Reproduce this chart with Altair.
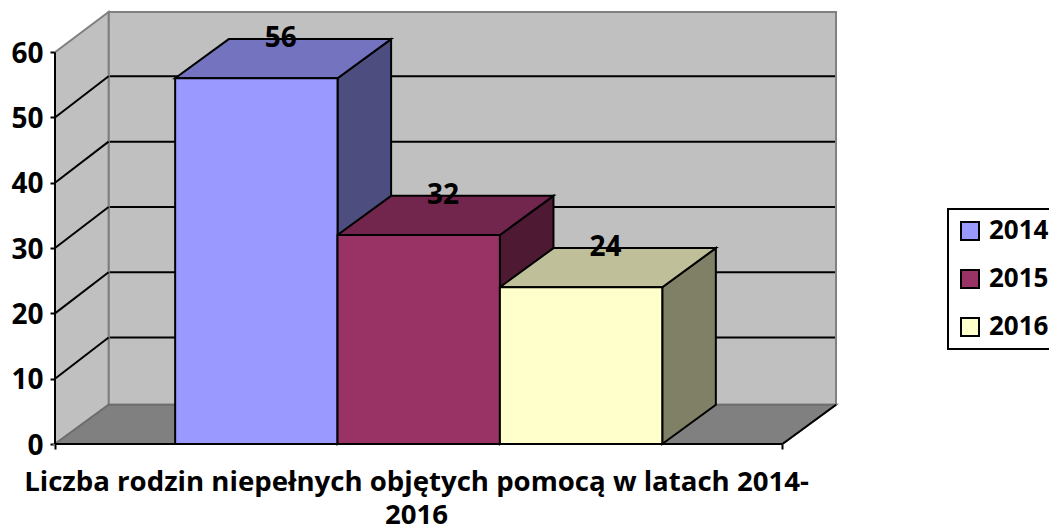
import altair as alt
import pandas as pd

YEARS = ["2014", "2015", "2016"]
VALUES = [56, 32, 24]
FRONT = ["#9999FF", "#993366", "#FFFFCC"]
TOPS = ["#7373BF", "#73264D", "#BFBF99"]
SIDES = ["#4D4D80", "#4D1933", "#808066"]
TICKS = [0, 10, 20, 30, 40, 50, 60]
GRID_VALUES = [10, 20, 30, 40, 50]
TITLE = ["Liczba rodzin niepełnych objętych pomocą w latach 2014-", "2016"]

GAP = 0.74          # empty floor left of the first bar, in bar widths
FLOOR = 3 + 2 * GAP  # floor width in bar widths
DX = 0.33           # depth in bar widths
DY = 6.0            # depth in value units
GRID_DY = 6.3
TOP = 66.15
FONT = "Open Sans"

XS = alt.Scale(domain=[0, FLOOR + DX], nice=False, zero=False)
YS = alt.Scale(domain=[0, TOP], nice=False, zero=False)
X = alt.X("x:Q", scale=XS, axis=None)
Y = alt.Y("y:Q", scale=YS, axis=None)

bars = []
sides = []
tops = []
for i, (yr, v) in enumerate(zip(YEARS, VALUES)):
    x0, x1 = GAP + i, GAP + i + 1
    bars.append({"year": yr, "v": v, "x": x0, "x2": x1, "y": 0, "y2": v,
                 "lx": x0 + 0.5 + 0.15, "ly": v + DY})
    sides += [{"year": yr, "x": x1, "y": 0, "y2": v},
              {"year": yr, "x": x1 + DX, "y": DY, "y2": v + DY}]
    tops += [{"year": yr, "y": v, "x": x0, "x2": x1},
             {"year": yr, "y": v + DY, "x": x0 + DX, "x2": x1 + DX}]

bars = pd.DataFrame(bars)
sides = pd.DataFrame(sides)
tops = pd.DataFrame(tops)

# Back wall, with the value and base axes
wall = alt.Chart(pd.DataFrame([{"x": DX, "x2": FLOOR + DX, "y": DY, "y2": TOP}])).mark_rect(
    color="#C0C0C0"
).encode(
    x=alt.X("x:Q", scale=XS,
            axis=alt.Axis(values=[0, FLOOR], labels=False, domain=False, grid=False,
                          tickColor="black", tickWidth=2, tickSize=5,
                          title=TITLE, titleFont=FONT, titleFontWeight="bold",
                          titleFontSize=27.6, titleColor="black", titleLineHeight=33,
                          titleX=361, titleY=24, titleAlign="center", titleBaseline="top")),
    x2="x2:Q",
    y=alt.Y("y:Q", scale=YS,
            axis=alt.Axis(values=TICKS, domain=False, grid=False, title=None,
                          tickColor="black", tickWidth=2, tickSize=5,
                          labelFont=FONT, labelFontWeight="bold", labelFontSize=28,
                          labelColor="black", labelPadding=7, labelOffset=2)),
    y2="y2:Q",
)

left_wall = alt.Chart(pd.DataFrame([
    {"x": 0, "y": 0, "y2": 60}, {"x": DX, "y": DY, "y2": TOP}
])).mark_area(color="#C0C0C0", stroke="#808080", strokeWidth=2, orient="vertical").encode(
    x=X, y=alt.Y("y:Q", scale=YS, axis=None, stack=None), y2="y2:Q")

floor = alt.Chart(pd.DataFrame([
    {"y": 0, "x": 0, "x2": FLOOR}, {"y": DY, "x": DX, "x2": FLOOR + DX}
])).mark_area(color="#808080", stroke="#6E6E6E", strokeWidth=2, orient="horizontal").encode(
    y=Y, x=alt.X("x:Q", scale=XS, axis=None, stack=None), x2="x2:Q")

grid = alt.Chart(pd.DataFrame({"v": GRID_VALUES}).assign(
    x=DX, x2=FLOOR + DX, y=lambda d: d.v + GRID_DY)).mark_rule(color="black", strokeWidth=2).encode(
    x=X, x2="x2:Q", y=Y)

diagonals = alt.Chart(pd.DataFrame({"v": GRID_VALUES}).assign(
    x=0, x2=DX, y=lambda d: d.v, y2=lambda d: d.v + GRID_DY)).mark_rule(color="black", strokeWidth=2).encode(
    x=X, x2="x2:Q", y=Y, y2="y2:Q")

wall_line = alt.Chart(pd.DataFrame([{"x": DX, "x2": FLOOR + DX, "y": DY, "y2": TOP}])).mark_rect(
    fill="white", fillOpacity=0, stroke="#808080", strokeWidth=2
).encode(x=X, x2="x2:Q", y=Y, y2="y2:Q")

edges = alt.Chart(pd.DataFrame([
    {"x": 0, "x2": 0, "y": 0, "y2": 60},
    {"x": 0, "x2": FLOOR, "y": 0, "y2": 0},
    {"x": FLOOR, "x2": FLOOR + DX, "y": 0, "y2": DY},
])).mark_rule(color="black", strokeWidth=2).encode(x=X, x2="x2:Q", y=Y, y2="y2:Q")

side = alt.Chart(sides).mark_area(stroke="black", strokeWidth=2, orient="vertical").encode(
    x=X, y=alt.Y("y:Q", scale=YS, axis=None, stack=None), y2="y2:Q",
    color=alt.Color("year:N", scale=alt.Scale(domain=YEARS, range=SIDES), legend=None))

top = alt.Chart(tops).mark_area(stroke="black", strokeWidth=2, orient="horizontal").encode(
    y=Y, x=alt.X("x:Q", scale=XS, axis=None, stack=None), x2="x2:Q",
    color=alt.Color("year:N", scale=alt.Scale(domain=YEARS, range=TOPS), legend=None))

front = alt.Chart(bars).mark_rect(stroke="black", strokeWidth=2).encode(
    x=X, x2="x2:Q", y=Y, y2="y2:Q",
    color=alt.Color("year:N", scale=alt.Scale(domain=YEARS, range=FRONT),
                    legend=alt.Legend(
                        title=None, orient="none", legendX=893, legendY=197,
                        fillColor="white", strokeColor="black", padding=9,
                        symbolType="square", symbolSize=324, symbolStrokeColor="black",
                        symbolStrokeWidth=2, labelFont=FONT, labelFontWeight="bold",
                        labelFontSize=26, labelColor="black", labelOffset=6,
                        rowPadding=22, symbolOpacity=1)))

labels = alt.Chart(bars).mark_text(font=FONT, fontWeight="bold", fontSize=28, color="black",
                                   baseline="middle").encode(
    x=alt.X("lx:Q", scale=XS, axis=None), y=alt.Y("ly:Q", scale=YS, axis=None),
    text="v:Q")

chart = alt.layer(wall, grid, wall_line, left_wall, diagonals, floor, edges, side, top, front, labels).resolve_scale(
    color="independent"
).resolve_axis(
    x="independent", y="independent"
).properties(
    width=781, height=432,
    padding={"left": 47, "top": 4, "right": 213, "bottom": 88},
    autosize=alt.AutoSizeParams(type="none"),
    background="white",
).configure_view(stroke=None).configure_legend(strokeWidth=2)

chart.save("out.html", embed_options={"renderer": "svg", "actions": False})
